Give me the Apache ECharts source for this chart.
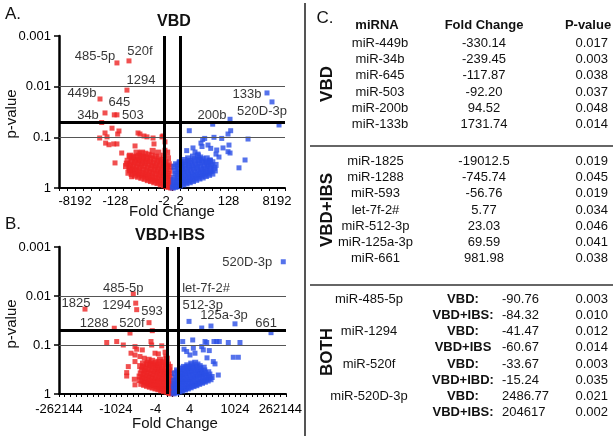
<!DOCTYPE html>
<html><head><meta charset="utf-8">
<script src="https://cdn.jsdelivr.net/npm/echarts@6/dist/echarts.min.js"></script>
<style>html,body{margin:0;padding:0;background:#fff}#c{width:616px;height:439px}</style>
</head><body><div id="c"></div>
<script>
// ---------- Panel A (VBD) : x = signed log2 fold change, y = p-value ----------
const aRedSparse = [[-8.71,0.051],[-7.43,0.066],[-8.30,0.082],[-6.73,0.086],[-8.96,0.103],[-8.22,0.13],[-7.81,0.14],[-7.22,0.135],[-6.82,0.135],[-4.21,0.082],[-3.97,0.086],[-3.47,0.094],[-3.10,0.098],[-2.23,0.135],[-1.24,0.098],[-0.87,0.123],[-0.87,0.18],[-4.58,0.148],[-6.23,0.204],[-7.06,0.32],[-4.83,0.245],[-3.97,0.204],[-5.33,0.234],[-2.35,0.103],[-1.12,0.094],[-6.57,0.075],[-8.05,0.098],[-5.2,0.44],[-5.0,0.6]];
const aRedDense = [[-0.1,0.98],[-0.4,0.95],[-0.7,0.92],[-1.0,0.88],[-1.4,0.85],[-1.8,0.8],[-2.2,0.77],[-2.6,0.73],[-3.0,0.7],[-3.4,0.66],[-3.8,0.63],[-4.2,0.6],[-4.6,0.57],[-5.0,0.53],[-5.4,0.5],
[-0.3,0.9],[-0.6,0.86],[-1.2,0.8],[-1.6,0.76],[-2.0,0.71],[-2.4,0.68],[-2.8,0.64],[-3.2,0.6],[-3.6,0.57],[-4.0,0.54],[-4.4,0.51],[-4.8,0.47],[-5.2,0.45],
[-0.2,0.82],[-0.5,0.78],[-0.9,0.72],[-1.3,0.68],[-1.7,0.65],[-2.1,0.62],[-2.5,0.58],[-2.9,0.55],[-3.3,0.52],[-3.7,0.5],[-4.1,0.46],[-4.5,0.44],[-4.9,0.41],[-5.3,0.39],[-5.7,0.37],
[-0.2,0.7],[-0.8,0.64],[-1.2,0.6],[-1.6,0.56],[-2.0,0.53],[-2.4,0.5],[-2.8,0.48],[-3.2,0.45],[-3.6,0.43],[-4.0,0.4],[-4.4,0.38],[-4.8,0.36],[-5.2,0.34],[-5.6,0.33],
[-0.3,0.62],[-0.6,0.58],[-1.0,0.54],[-1.4,0.5],[-1.8,0.47],[-2.2,0.44],[-2.6,0.42],[-3.0,0.4],[-3.4,0.37],[-3.8,0.35],[-4.2,0.33],[-4.6,0.31],[-5.0,0.3],[-5.5,0.29],
[-0.5,0.52],[-0.9,0.47],[-1.3,0.44],[-1.7,0.41],[-2.1,0.38],[-2.5,0.36],[-2.9,0.34],[-3.3,0.32],[-3.7,0.31],[-4.1,0.29],[-4.5,0.28],[-5.0,0.26],
[-0.3,0.46],[-0.7,0.42],[-1.1,0.39],[-1.5,0.36],[-1.9,0.34],[-2.3,0.32],[-2.7,0.3],[-3.1,0.29],[-3.5,0.27],[-3.9,0.26],[-4.3,0.25],[-4.8,0.24],[-5.2,0.23],
[-0.2,0.38],[-0.6,0.37],[-1.0,0.34],[-1.4,0.31],[-1.8,0.29],[-2.2,0.27],[-2.7,0.26],[-3.2,0.25],[-3.6,0.24],[-4.1,0.23],
[-0.4,0.34],[-0.8,0.31],[-1.2,0.28],[-1.6,0.26],[-2.0,0.24],[-2.5,0.23],[-2.9,0.22],[-3.3,0.21],[-3.7,0.2],[-4.4,0.2],
[-0.5,0.26],[-1.0,0.23],[-1.7,0.2],[-2.4,0.185],[-0.6,0.2]];
const aBlueSparse = [[13.26,0.057],[5.04,0.055],[2.14,0.074],[5.20,0.1],[6.16,0.105],[6.94,0.086],[7.27,0.074],[9.42,0.108],[3.80,0.11],[4.05,0.105],[3.59,0.13],[3.72,0.152],[1.82,0.183],[2.85,0.195],[3.22,0.214],[4.46,0.142],[4.80,0.165],[5.54,0.178],[6.32,0.162],[7.06,0.142],[6.94,0.192],[5.45,0.214],[5.82,0.245],[9.05,0.28],[8.30,0.40],[7.19,0.204],[4.71,0.28],[4.30,0.316],[3.47,0.28],[0.87,0.31],[2.6,0.162]];
const aBlueDense = [[0.1,0.98],[0.4,0.95],[0.7,0.92],[1.0,0.89],[1.4,0.85],[1.8,0.81],[2.2,0.77],[2.6,0.73],[3.0,0.69],[3.4,0.65],[3.8,0.62],[4.2,0.58],[4.6,0.55],[5.0,0.52],
[0.2,0.9],[0.6,0.86],[1.2,0.8],[1.6,0.76],[2.0,0.72],[2.4,0.68],[2.8,0.64],[3.2,0.6],[3.6,0.57],[4.0,0.54],[4.4,0.5],[4.8,0.47],[5.3,0.45],
[0.3,0.8],[0.6,0.76],[1.0,0.72],[1.4,0.68],[1.8,0.64],[2.2,0.6],[2.6,0.57],[3.0,0.54],[3.4,0.51],[3.8,0.48],[4.2,0.45],[4.7,0.42],[5.2,0.4],
[0.2,0.7],[0.8,0.65],[1.2,0.61],[1.6,0.57],[2.0,0.54],[2.4,0.51],[2.8,0.48],[3.2,0.45],[3.6,0.43],[4.0,0.41],[4.4,0.38],[4.8,0.36],[5.4,0.35],
[0.3,0.62],[0.7,0.58],[1.1,0.53],[1.5,0.5],[1.9,0.47],[2.3,0.44],[2.7,0.41],[3.1,0.39],[3.5,0.37],[4.0,0.35],[4.5,0.33],[5.0,0.31],
[0.5,0.52],[0.9,0.48],[1.3,0.45],[1.7,0.42],[2.1,0.39],[2.5,0.37],[2.9,0.35],[3.3,0.33],[3.7,0.31],[4.2,0.3],[4.7,0.29],
[0.4,0.46],[0.8,0.42],[1.2,0.39],[1.6,0.36],[2.0,0.34],[2.4,0.32],[2.8,0.3],[3.3,0.28],[3.8,0.27],[4.3,0.26],
[0.3,0.38],[0.7,0.36],[1.2,0.34],[1.7,0.31],[2.2,0.29],[2.8,0.27],[3.5,0.25],
[0.5,0.34],[1.0,0.31],[1.5,0.28],[2.0,0.26],[2.6,0.24],[3.2,0.23]];
const aLabeled = [['485-5p',-6.82,0.0034],['520f',-5.33,0.0031],['1294',-5.58,0.0117],['449b',-8.92,0.0175],['645',-7.15,0.036],['34b',-8.30,0.033],['503',-6.82,0.036],['200b',7.19,0.044],['133b',11.77,0.0133],['520D-3p',12.39,0.02]];
const aTickPos = [-12,-7,-1,1,7,13];
const aTickText = ['-8192','-128','-2','2','128','8192'];

// ---------- Panel B (VBD+IBS) ----------
const bRedSparse = [[-6.31,0.019],[-3.56,0.051],[-11.59,0.089],[-9.83,0.085],[-8.67,0.1],[-6.61,0.108],[-6.31,0.122],[-5.32,0.126],[-3.79,0.085],[-3.67,0.1],[-1.90,0.104],[-7.31,0.147],[-6.61,0.16],[-5.73,0.172],[-4.97,0.186],[-3.08,0.147],[-2.5,0.152],[-6.61,0.218],[-8.07,0.366],[-8.07,0.43],[-6.73,0.5],[-6.61,0.65],[-7.79,0.276],[-1.3,0.14],[-1.2,0.17]];
const bRedDense = [[-0.2,0.97],[-0.6,0.94],[-1.0,0.9],[-1.5,0.87],[-2.0,0.84],[-2.5,0.8],[-3.0,0.77],[-3.5,0.74],[-4.0,0.71],[-4.5,0.68],[-5.0,0.65],[-5.5,0.62],
[-0.4,0.9],[-0.8,0.86],[-1.3,0.8],[-1.8,0.77],[-2.3,0.73],[-2.8,0.69],[-3.3,0.66],[-3.8,0.63],[-4.3,0.6],[-4.8,0.57],[-5.3,0.54],[-5.8,0.52],
[-0.3,0.8],[-0.8,0.76],[-1.3,0.72],[-1.8,0.68],[-2.3,0.64],[-2.8,0.6],[-3.3,0.57],[-3.8,0.54],[-4.3,0.51],[-4.8,0.48],[-5.3,0.46],[-5.8,0.44],
[-0.2,0.7],[-0.6,0.67],[-1.1,0.63],[-1.6,0.6],[-2.1,0.56],[-2.6,0.53],[-3.1,0.5],[-3.6,0.47],[-4.1,0.45],[-4.6,0.42],[-5.1,0.4],[-5.6,0.38],
[-0.4,0.62],[-0.9,0.57],[-1.4,0.53],[-1.9,0.49],[-2.4,0.46],[-2.9,0.43],[-3.4,0.4],[-3.9,0.38],[-4.4,0.36],[-4.9,0.34],[-5.4,0.32],
[-0.3,0.53],[-0.7,0.5],[-1.2,0.46],[-1.7,0.43],[-2.2,0.4],[-2.7,0.37],[-3.2,0.35],[-3.7,0.33],[-4.2,0.31],[-4.7,0.3],[-5.2,0.28],[-5.7,0.27],
[-0.5,0.45],[-1.0,0.41],[-1.5,0.38],[-2.0,0.35],[-2.5,0.32],[-3.0,0.3],[-3.5,0.28],[-4.0,0.26],[-4.6,0.25],[-5.2,0.24],
[-0.3,0.38],[-0.8,0.36],[-1.3,0.34],[-1.8,0.31],[-2.3,0.29],[-2.8,0.27],[-3.3,0.25],[-3.8,0.24],[-4.4,0.23],
[-0.6,0.33],[-1.2,0.3],[-1.8,0.27],[-2.4,0.25],[-3.0,0.23],[-3.6,0.21],[-4.2,0.2],
[-0.5,0.28],[-1.1,0.25],[-1.7,0.23],[-2.5,0.22],
[-0.8,0.25],[-1.5,0.22],[-2.2,0.2],[-1.0,0.19]];
const bBlueSparse = [[6.78,0.041],[1.80,0.085],[3.56,0.079],[5.73,0.085],[6.03,0.089],[7.31,0.085],[7.79,0.085],[8.25,0.085],[9.83,0.089],[11.89,0.089],[2.03,0.122],[2.5,0.136],[3.67,0.116],[3.96,0.147],[5.15,0.108],[5.43,0.126],[6.48,0.13],[10.71,0.178],[11.6,0.178],[7.19,0.218],[7.49,0.243],[8.07,0.41],[3.08,0.16],[6.08,0.183]];
const bBlueDense = [[0.2,0.97],[0.7,0.93],[1.2,0.89],[1.7,0.85],[2.2,0.81],[2.7,0.77],[3.2,0.73],[3.7,0.69],[4.2,0.66],[4.7,0.62],[5.2,0.59],[5.7,0.56],[6.2,0.53],[6.7,0.5],
[0.4,0.9],[0.9,0.86],[1.4,0.82],[1.9,0.78],[2.4,0.74],[2.9,0.7],[3.4,0.66],[3.9,0.63],[4.4,0.6],[4.9,0.56],[5.4,0.53],[5.9,0.5],[6.4,0.47],[6.9,0.45],
[0.4,0.8],[0.9,0.75],[1.4,0.7],[1.9,0.66],[2.4,0.62],[2.9,0.58],[3.4,0.55],[3.9,0.52],[4.4,0.49],[4.9,0.46],[5.4,0.44],[5.9,0.42],[6.5,0.4],
[0.2,0.7],[0.7,0.66],[1.2,0.62],[1.7,0.59],[2.2,0.55],[2.7,0.52],[3.2,0.49],[3.7,0.46],[4.2,0.44],[4.7,0.41],[5.2,0.39],[5.7,0.37],[6.3,0.36],
[0.5,0.62],[1.0,0.57],[1.5,0.53],[2.0,0.49],[2.5,0.46],[3.0,0.43],[3.5,0.41],[4.0,0.38],[4.5,0.36],[5.0,0.34],[5.6,0.33],
[0.3,0.53],[0.8,0.5],[1.3,0.46],[1.8,0.43],[2.3,0.4],[2.8,0.37],[3.3,0.35],[3.8,0.33],[4.3,0.31],[4.9,0.3],[5.5,0.29],
[0.6,0.46],[1.1,0.42],[1.6,0.39],[2.1,0.36],[2.6,0.33],[3.1,0.31],[3.6,0.29],[4.2,0.28],[4.8,0.27],
[0.4,0.38],[0.9,0.36],[1.4,0.34],[1.9,0.31],[2.4,0.29],[2.9,0.28],[3.5,0.26],[4.4,0.25],
[0.8,0.33],[1.4,0.3],[2.0,0.28],[2.6,0.26],[3.3,0.24],[4.0,0.23]];
const bLabeled = [['520D-3p',19.52,0.002],['485-5p',-6.91,0.0091],['1294',-6.48,0.014],['1825',-15.42,0.0185],['593',-4.14,0.035],['1288',-10.26,0.0455],['520f',-7.49,0.057],['let-7f-2#',2.91,0.033],['512-3p',5.15,0.045],['125a-3p',11.01,0.037],['661',17.36,0.056]];
const bTickPos = [-20,-10,-3,3,11,19];
const bTickText = ['-262144','-1024','-4','4','1024','262144'];

const yTickText = ['0.001','0.01','0.1','1'];
const pThresh = 0.05, fcThresh = 1, guideP = [0.01, 0.1];

// ---------- Panel C table ----------
const tableHeader = ['miRNA','Fold Change','P-value'];
const vbdTable = [['miR-449b','-330.14','0.017'],['miR-34b','-239.45','0.003'],['miR-645','-117.87','0.038'],['miR-503','-92.20','0.037'],['miR-200b','94.52','0.048'],['miR-133b','1731.74','0.014']];
const ibsTable = [['miR-1825','-19012.5','0.019'],['miR-1288','-745.74','0.045'],['miR-593','-56.76','0.019'],['let-7f-2#','5.77','0.034'],['miR-512-3p','23.03','0.046'],['miR-125a-3p','69.59','0.041'],['miR-661','981.98','0.038']];
const bothNames = ['miR-485-5p','miR-1294','miR-520f','miR-520D-3p'];
const bothRows = [['VBD:','-90.76','0.003'],['VBD+IBS:','-84.32','0.010'],['VBD:','-41.47','0.012'],['VBD+IBS','-60.67','0.014'],['VBD:','-33.67','0.003'],['VBD+IBD:','-15.24','0.035'],['VBD:','2486.77','0.021'],['VBD+IBS:','204617','0.002']];
const sectionNames = ['VBD','VBD+IBS','BOTH'];

// ---------- styles ----------
const FONT = "'Liberation Sans', Arial, sans-serif";
const RED = '#ee2424', BLUE = '#2b4fe6';
const labelOffsets = {
  A: {'485-5p':[-22,-7],'520f':[11,-9],'1294':[14,-10],'449b':[-18,-6],'645':[5,-12],'34b':[-17,2],'503':[16,1],'200b':[-18,-4],'133b':[-20,1],'520D-3p':[-10,10]},
  B: {'520D-3p':[-36,1],'485-5p':[-10,-6],'1294':[-19,2],'1825':[-9,-6],'593':[3,-11],'1288':[-20,-5],'520f':[2,-10],'let-7f-2#':[17,-33],'512-3p':[1,-23],'125a-3p':[-11,-8],'661':[-5,-9]}
};

function xAxisCfg(gi, min, max, pos, text, margin){
  return {gridIndex:gi, type:'value', min:min, max:max, interval:1,
    axisLine:{onZero:false, lineStyle:{color:'#000', width:2}},
    axisTick:{show:true, length:3, lineStyle:{color:'#000', width:1}},
    splitLine:{show:false},
    axisLabel:{color:'#000', fontSize:13, fontFamily:FONT, margin:margin, showMinLabel:true, showMaxLabel:true,
      formatter:function(v){ const i = pos.indexOf(Math.round(v)); return (i>=0 && Math.abs(v-Math.round(v))<1e-6) ? text[i] : ''; }}};
}
function yAxisCfg(gi){
  return {gridIndex:gi, type:'log', logBase:10, min:0.001, max:1, inverse:true,
    axisLine:{onZero:false, lineStyle:{color:'#000', width:2.5}},
    axisTick:{show:true, length:5, lineStyle:{color:'#000', width:1.5}},
    splitLine:{show:false}, minorTick:{show:false},
    axisLabel:{color:'#000', fontSize:13, fontFamily:FONT, margin:8,
      formatter:function(v){ const i = Math.round(Math.log10(v))+3; return yTickText[i]||''; }}};
}
function pts(arr, color, gi, size){
  return {type:'scatter', xAxisIndex:gi, yAxisIndex:gi, symbol:'rect', symbolSize:size||5, z:3,
    itemStyle:{color:color}, data:arr.map(d=>[d[0],d[1]]), silent:true, animation:false};
}
function labeled(arr, key, gi){
  return {type:'scatter', xAxisIndex:gi, yAxisIndex:gi, symbol:'rect', symbolSize:5, z:4, silent:true, animation:false,
    data:arr.map(d=>({value:[d[1],d[2]], itemStyle:{color: d[1]<0?RED:BLUE},
      label:{show:true, formatter:d[0], position:'inside', offset:labelOffsets[key][d[0]], color:'#000', fontSize:13, fontFamily:FONT}}))};
}
function guides(gi){
  const thin = {color:'#555', width:1, type:'solid'}, thick = {color:'#000', width:3, type:'solid'};
  const data = [];
  guideP.forEach(p=>data.push({yAxis:p, lineStyle:thin}));
  data.push({yAxis:pThresh, lineStyle:thick});
  data.push({xAxis:-fcThresh, lineStyle:thick});
  data.push({xAxis:fcThresh, lineStyle:thick});
  return {type:'line', xAxisIndex:gi, yAxisIndex:gi, data:[], z:2, silent:true, animation:false,
    markLine:{symbol:'none', silent:true, animation:false, label:{show:false}, data:data}};
}

// graphic texts
const G = [];
function txt(x,y,text,font,align,rot){
  G.push({type:'text', x:x, y:y, rotation:rot||0, silent:true,
    style:{text:text, font:font, fill:'#111', align:align||'center', verticalAlign:'middle', textAlign:align||'center', textVerticalAlign:'middle'}});
}
const F13 = '13px ' + FONT, F13B = 'bold 13px ' + FONT;
txt(13,14,'A.','17px '+FONT,'center');
txt(13,224,'B.','17px '+FONT,'center');
txt(174,22,'VBD','bold 16px '+FONT);
txt(170,236,'VBD+IBS','bold 16px '+FONT);
txt(12,114,'p-value','15px '+FONT,'center',Math.PI/2);
txt(12,324,'p-value','15px '+FONT,'center',Math.PI/2);
txt(172,212,'Fold Change','15px '+FONT);
txt(175,424,'Fold Change','15px '+FONT);
// table
txt(325,18,'C.','17px '+FONT);
txt(377,25,tableHeader[0],F13B);
txt(484,25,tableHeader[1],F13B);
txt(588,25,tableHeader[2],F13B);
vbdTable.forEach((r,i)=>{ const y = 43.3 + i*16.3; txt(380,y,r[0],F13); txt(484,y,r[1],F13); txt(608,y,r[2],F13,'right'); });
ibsTable.forEach((r,i)=>{ const y = 161.7 + i*16.1; txt(375.5,y,r[0],F13); txt(484,y,r[1],F13); txt(608,y,r[2],F13,'right'); });
bothRows.forEach((r,i)=>{ const y = 299.3 + i*16.2; if(i%2===0) txt(369,y,bothNames[i/2],F13); txt(463,y,r[0],F13B); txt(502,y,r[1],F13,'left'); txt(608,y,r[2],F13,'right'); });
txt(327,84,sectionNames[0],'bold 17px '+FONT,'center',Math.PI/2);
txt(327,210,sectionNames[1],'bold 17px '+FONT,'center',Math.PI/2);
txt(327,352,sectionNames[2],'bold 17px '+FONT,'center',Math.PI/2);
G.push({type:'line', silent:true, shape:{x1:310,y1:146,x2:613,y2:146}, style:{stroke:'#666', lineWidth:2}});
G.push({type:'line', silent:true, shape:{x1:310,y1:285,x2:613,y2:285}, style:{stroke:'#666', lineWidth:2}});
G.push({type:'line', silent:true, shape:{x1:305,y1:3,x2:305,y2:436}, style:{stroke:'#555', lineWidth:2}});

const chart = echarts.init(document.getElementById('c'), null, {renderer:'canvas'});
chart.setOption({
  animation:false,
  backgroundColor:'#fff',
  grid:[{left:59, top:36, width:226, height:152}, {left:59, top:247, width:227, height:147}],
  xAxis:[xAxisCfg(0,-14,14,aTickPos,aTickText,7), xAxisCfg(1,-20,20,bTickPos,bTickText,9)],
  yAxis:[yAxisCfg(0), yAxisCfg(1)],
  series:[guides(0), guides(1),
    pts(aRedDense,RED,0,6), pts(aRedSparse,RED,0), pts(aBlueDense,BLUE,0,6), pts(aBlueSparse,BLUE,0), labeled(aLabeled,'A',0),
    pts(bRedDense,RED,1,6), pts(bRedSparse,RED,1), pts(bBlueDense,BLUE,1,6), pts(bBlueSparse,BLUE,1), labeled(bLabeled,'B',1)],
  graphic:G
});
</script></body></html>
